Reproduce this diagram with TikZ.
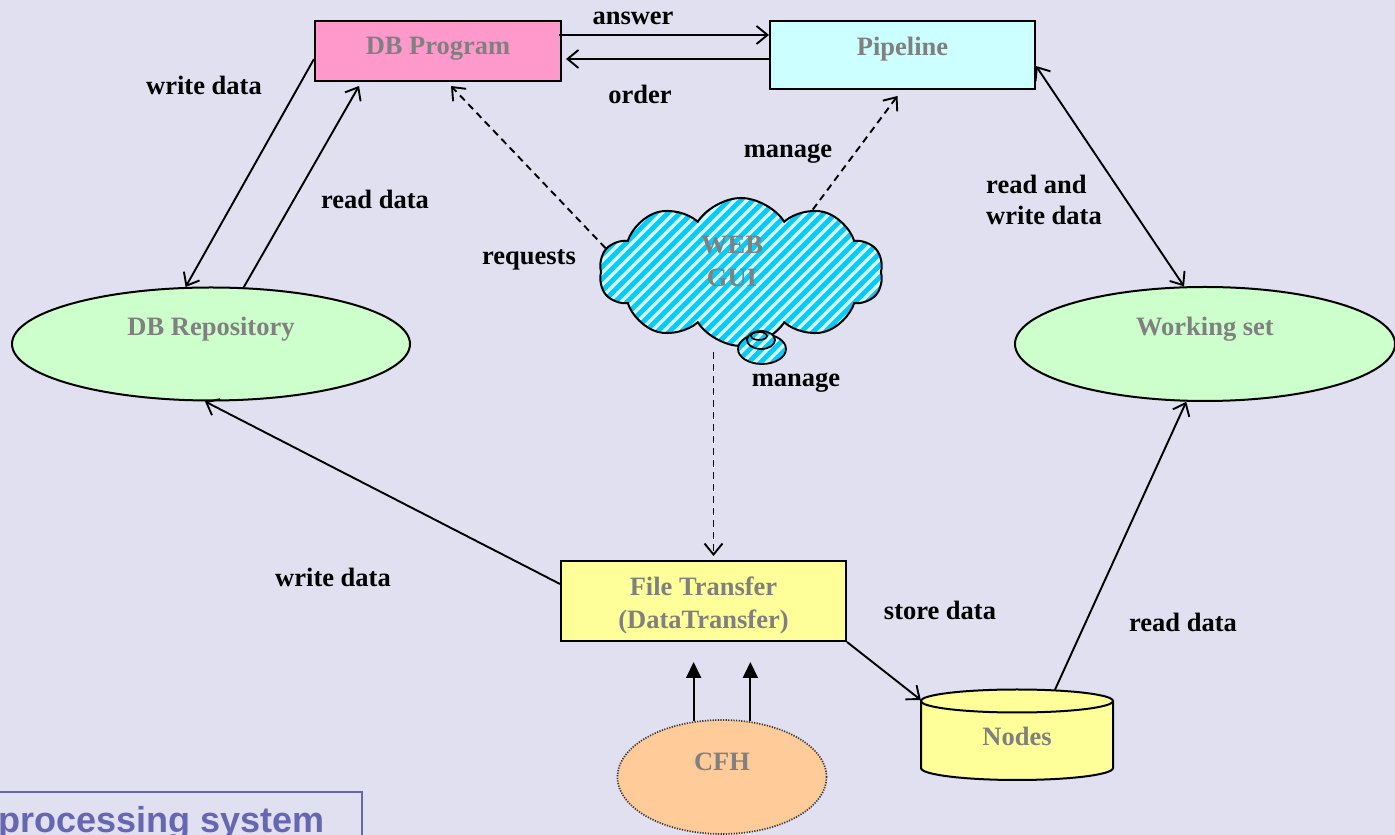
\documentclass[tikz,border=0pt]{standalone}
\usepackage{fontspec}
\setmainfont{Liberation Serif}
\setsansfont{Liberation Sans}
\usetikzlibrary{arrows.meta,shapes.geometric,shapes.symbols,calc}
\definecolor{bgcol}{RGB}{224,224,240}
\definecolor{pinkf}{RGB}{255,153,204}
\definecolor{cyanf}{RGB}{204,255,255}
\definecolor{greenf}{RGB}{204,255,204}
\definecolor{yellowf}{RGB}{255,255,153}
\definecolor{orangef}{RGB}{255,204,153}
\definecolor{stripecol}{RGB}{0,204,255}
\definecolor{nodetxt}{RGB}{128,128,128}
\definecolor{titleblue}{RGB}{102,102,179}
\begin{document}
\begin{tikzpicture}[x=1pt,y=1pt,
  lbl/.style={font=\fontsize{26.5}{31}\selectfont\bfseries, text=black, inner sep=0pt},
  ntxt/.style={font=\fontsize{26.5}{33}\selectfont\bfseries, text=nodetxt, align=center, inner sep=0pt},
  box/.style={draw=black, line width=2pt, rectangle, inner sep=0pt},
  oval/.style={draw=black, line width=2pt, ellipse, inner sep=0pt},
  conn/.style={line width=1.9pt, -{Straight Barb[length=11pt,width=18pt]}},
  bconn/.style={line width=1.9pt, {Straight Barb[length=11pt,width=18pt]}-{Straight Barb[length=11pt,width=18pt]}},
  dconn/.style={line width=1.9pt, dash pattern=on 7pt off 5pt, -{Straight Barb[length=11pt,width=18pt]}},
  fconn/.style={line width=2pt, -{Triangle[length=16pt,width=15pt]}},
  striped/.style={fill=cyanf, path picture={
     \foreach \i in {-420,-408,...,420}
       \draw[line width=4.6pt, stripecol] ([xshift=\i pt]path picture bounding box.center) ++(-220,-220) -- ++(440,440);
  }}
]
\useasboundingbox (0,0) rectangle (1395,835);
\fill[bgcol] (0,0) rectangle (1395,835);

% nodes
\node[box, fill=pinkf, minimum width=246pt, minimum height=60pt] (prog) at (438,784) {};
\node[ntxt] at (438,786) {DB Program};
\node[box, fill=cyanf, minimum width=265pt, minimum height=68pt] (pipe) at (902.5,780) {};
\node[ntxt] at (902.5,786) {Pipeline};
\node[oval, fill=greenf, minimum width=398pt, minimum height=113pt] (repo) at (211,491) {};
\node[ntxt] at (211,506) {DB Repository};
\node[oval, fill=greenf, minimum width=380pt, minimum height=114pt] (ws) at (1205,491) {};
\node[ntxt] at (1205,506) {Working set};
\node[box, fill=yellowf, minimum width=285pt, minimum height=80pt] (ft) at (703.5,234) {};
\node[ntxt] at (703.5,230) {File Transfer\\(DataTransfer)};
\node[oval, fill=orangef, draw=black!80, line width=1.7pt, dash pattern=on 1.2pt off 1.4pt, minimum width=209pt, minimum height=114pt] (cfh) at (722,58) {};
\node[ntxt] at (722,73) {CFH};

% cylinder
\node[minimum width=192pt, minimum height=90pt, inner sep=0pt] (nodes) at (1017,100) {};
\fill[yellowf] (921,134) -- (921,67) arc[start angle=180,end angle=360,x radius=96,y radius=12] -- (1113,134) arc[start angle=0,end angle=180,x radius=96,y radius=11.5] -- cycle;
\draw[line width=2pt] (921,134) -- (921,67) arc[start angle=180,end angle=360,x radius=96,y radius=12] -- (1113,134);
\draw[line width=2pt] (1017,134) ellipse[x radius=96, y radius=11.5];
\node[ntxt] at (1017,99) {Nodes};

% cloud
\node[cloud, cloud puffs=10, cloud puff arc=115, cloud ignores aspect, minimum width=284pt, minimum height=148pt, draw=black, line width=2pt, striped] (cloud) at (741,563) {};
\path[striped, draw=black, line width=1.8pt] (762,486) ellipse[x radius=24, y radius=15];
\path[striped, draw=black, line width=1.8pt] (761,495) ellipse[x radius=14, y radius=9];
\draw[line width=1.6pt] (759,499) ellipse[x radius=8, y radius=4];
\node[ntxt] at (732,574) {WEB\\GUI};

% connectors
\draw[conn] ([yshift=-8pt]prog.west) -- (repo.114);
\draw[conn] (repo.60) -- ([xshift=45pt,yshift=-4pt]prog.south west);
\draw[conn] ([yshift=16pt,xshift=-3pt]prog.east) -- ([yshift=16pt]prog.east -| pipe.west);
\draw[conn] ([yshift=-8pt]prog.east -| pipe.west) -- ([yshift=-8pt,xshift=4pt]prog.east);
\draw[bconn] ([yshift=-11pt]pipe.east) -- (ws.110);
\draw[dconn] (cloud.170) -- ([xshift=13pt,yshift=-4pt]prog.south);
\draw[dconn] (cloud.41) -- ([xshift=-5pt,yshift=-6pt]pipe.south);
\draw[dconn] ([xshift=10pt,yshift=-5pt]ft.north |- cloud.south) -- ([xshift=10pt,yshift=4pt]ft.north);
\draw[conn] ([yshift=17pt]ft.west) -- (repo.264);
\draw[conn] (ft.south east) -- (nodes.160);
\draw[conn] (nodes.50) -- (ws.252);
\draw[fconn] (cfh.117) -- ([yshift=-20pt]cfh.117 |- ft.south);
\draw[fconn] (cfh.63) -- ([yshift=-20pt]cfh.63 |- ft.south);

% labels
\node[lbl] at (633,817) {answer};
\node[lbl] at (640,741) {order};
\node[lbl] at (204,750) {write data};
\node[lbl] at (375,636) {read data};
\node[lbl] at (529,575) {requests};
\node[lbl] at (788,681) {manage};
\node[lbl, align=left] at (1044,635) {read and\\write data};
\node[lbl] at (796,452) {manage};
\node[lbl] at (333,258) {write data};
\node[lbl] at (940,225) {store data};
\node[lbl] at (1183,213) {read data};

% title box
\draw[titleblue, line width=1.4pt] (-5,-5) rectangle (362,43);
\node[anchor=base east, font=\sffamily\bfseries\fontsize{36}{40}\selectfont, text=titleblue, inner sep=0pt] (title) at (325,2) {processing system};
\end{tikzpicture}
\end{document}
